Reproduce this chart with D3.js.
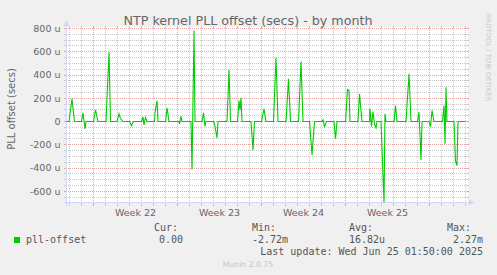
<!DOCTYPE html>
<html>
<head>
<meta charset="utf-8">
<script src="https://cdn.jsdelivr.net/npm/d3@7"></script>
<style>
    html, body { margin: 0; padding: 0; background: #f0f0f0; }
    svg { display: block; }
</style>
</head>
<body>
<div id="chart"></div>
<script>
const times = [
    "2025-05-22 18:00", "2025-05-22 23:00", "2025-05-23 05:00", "2025-05-23 10:00",
    "2025-05-24 00:00", "2025-05-24 03:00", "2025-05-24 07:00", "2025-05-24 09:00",
    "2025-05-25 00:00", "2025-05-25 04:00", "2025-05-25 09:00",
    "2025-05-26 01:00", "2025-05-26 07:00", "2025-05-26 10:00",
    "2025-05-26 23:00", "2025-05-27 03:00", "2025-05-27 06:00", "2025-05-27 11:00",
    "2025-05-28 00:00", "2025-05-28 04:00", "2025-05-28 08:00",
    "2025-05-29 00:00", "2025-05-29 03:00", "2025-05-29 05:00", "2025-05-29 08:00", "2025-05-29 11:00",
    "2025-05-30 02:00", "2025-05-30 03:00", "2025-05-30 07:00", "2025-05-30 09:00",
    "2025-05-31 00:00", "2025-05-31 03:00", "2025-05-31 07:00",
    "2025-06-01 03:00", "2025-06-01 04:00", "2025-06-01 07:00", "2025-06-01 09:00",
    "2025-06-02 03:00", "2025-06-02 05:00", "2025-06-02 09:00", "2025-06-02 11:00",
    "2025-06-03 01:00", "2025-06-03 04:00", "2025-06-03 07:00", "2025-06-03 09:00",
    "2025-06-04 00:00", "2025-06-04 02:00", "2025-06-04 07:00", "2025-06-04 09:00",
    "2025-06-05 03:00", "2025-06-05 07:00", "2025-06-05 10:00",
    "2025-06-06 00:00", "2025-06-06 03:00", "2025-06-06 05:00", "2025-06-06 07:00", "2025-06-06 09:00",
    "2025-06-07 03:00", "2025-06-07 07:00", "2025-06-07 10:00",
    "2025-06-08 00:00", "2025-06-08 05:00", "2025-06-08 09:00",
    "2025-06-09 00:00", "2025-06-09 05:00", "2025-06-09 09:00",
    "2025-06-10 01:00", "2025-06-10 06:00", "2025-06-10 10:00",
    "2025-06-11 02:00", "2025-06-11 07:00", "2025-06-11 11:00",
    "2025-06-12 00:00", "2025-06-12 05:00", "2025-06-12 10:00",
    "2025-06-13 01:00", "2025-06-13 03:00", "2025-06-13 06:00", "2025-06-13 08:00", "2025-06-13 10:00",
    "2025-06-14 01:00", "2025-06-14 04:00", "2025-06-14 07:00",
    "2025-06-15 00:00", "2025-06-15 04:00", "2025-06-15 07:00", "2025-06-15 09:00",
    "2025-06-16 01:00", "2025-06-16 04:00", "2025-06-16 09:00",
    "2025-06-17 00:00", "2025-06-17 01:00", "2025-06-17 04:00", "2025-06-17 07:00", "2025-06-17 10:00", "2025-06-17 13:00", "2025-06-17 15:00",
    "2025-06-17 23:00", "2025-06-18 05:00", "2025-06-18 07:00", "2025-06-18 09:00",
    "2025-06-19 01:00", "2025-06-19 04:00", "2025-06-19 07:00",
    "2025-06-20 01:00", "2025-06-20 07:00", "2025-06-20 11:00",
    "2025-06-21 00:00", "2025-06-21 03:00", "2025-06-21 07:00", "2025-06-21 09:00",
    "2025-06-21 23:00", "2025-06-22 02:00", "2025-06-22 05:00", "2025-06-22 09:00",
    "2025-06-23 02:00", "2025-06-23 05:00", "2025-06-23 07:00", "2025-06-23 09:00", "2025-06-23 11:00",
    "2025-06-24 01:00", "2025-06-24 04:00", "2025-06-24 07:00", "2025-06-24 09:00",
    "2025-06-25 00:00"
]
const offsets = [
    0, 0, 195, 0,
    0, 75, -63, 0,
    0, 100, 0,
    0, 596, 0,
    0, 66, 25, 0,
    0, -37, 0,
    0, 40, -30, 35, 0,
    0, 75, 180, 0,
    0, 118, 0,
    0, -20, 45, 0,
    0, -413, 783, 0,
    0, 75, -43, 0,
    0, -20, -140, 0,
    0, 445, 0,
    0, 180, 100, 204, 0,
    0, -244, 0,
    0, 109, 0,
    0, 548, 0,
    0, 367, 0,
    0, 516, 0,
    0, -287, 0,
    0, 15, -49, -20, 0,
    0, -149, 0,
    0, 275, 270, 0,
    0, 238, 0,
    0, 109, -43, 86, -20, -55, 0,
    0, -694, 66, 0,
    0, 138, 0,
    0, 410, 0,
    0, 80, -330, 0,
    0, -43, 95, 0,
    0, 138, -192, 295, 0,
    0, -340, -378, 0,
    0
]

const yTicks = [-600, -400, -200, 0, 200, 400, 600, 800]
const legendHeads = ["Cur:", "Min:", "Avg:", "Max:"]
const legendValues = ["0.00", "-2.72m", "16.82u", "2.27m"]
const seriesName = "pll-offset"
const lastUpdate = "Last update: Wed Jun 25 01:50:00 2025"

let W = 497, H = 275
let plot = {left: 67, right: 467, top: 28.5, bottom: 203}
const parseTime = d3.utcParse("%Y-%m-%d %H:%M")

let data = times.map(function (t, i) {
    return {t: parseTime(t), v: offsets[i]}
})

let svg = d3.select("#chart")
    .append("svg")
    .attr("width", W)
    .attr("height", H)
    .style("font-family", "'DejaVu Sans', sans-serif")

svg.append("rect")
    .attr("width", W).attr("height", H)
    .attr("fill", "#f0f0f0")

let xScale = d3.scaleUtc()
    .domain([new Date(Date.UTC(2025, 4, 22, 19)), new Date(Date.UTC(2025, 5, 25, 3))])
    .range([plot.left, plot.right])

let yScale = d3.scaleLinear()
    .domain([-701, 800])
    .range([plot.bottom, plot.top])

// canvas
svg.append("rect")
    .attr("x", plot.left - 1)
    .attr("y", 27)
    .attr("width", plot.right - plot.left + 2)
    .attr("height", plot.bottom - 27)
    .attr("fill", "#ffffff")

let grid = svg.append("g").attr("shape-rendering", "crispEdges")

function crisp(v) { return Math.floor(v) + 0.5 }

// horizontal grid, minor every 50u, major every 200u
d3.range(-700, 801, 50).forEach(function (v) {
    let y = crisp(yScale(v))
    let major = v % 200 === 0
    let col = major ? "#e7a2a2" : "#c9c9c9"
    grid.append("line")
        .attr("x1", plot.left - 3).attr("x2", plot.right + 2)
        .attr("y1", y).attr("y2", y)
        .attr("stroke", col)
        .attr("stroke-dasharray", "1,1")
    grid.append("line")
        .attr("x1", plot.left - 3).attr("x2", plot.left - 1)
        .attr("y1", y).attr("y2", y)
        .attr("stroke", col)
    grid.append("line")
        .attr("x1", plot.right).attr("x2", plot.right + 2)
        .attr("y1", y).attr("y2", y)
        .attr("stroke", col)
})

// vertical grid, minor every day, major every week (sunday)
xScale.ticks(d3.utcDay).forEach(function (d) {
    let x = crisp(xScale(d))
    let major = d.getUTCDay() === 0
    let col = major ? "#e7a2a2" : "#c9c9c9"
    grid.append("line")
        .attr("x1", x).attr("x2", x)
        .attr("y1", 26).attr("y2", plot.bottom + 2)
        .attr("stroke", col)
        .attr("stroke-dasharray", "1,1")
    grid.append("line")
        .attr("x1", x).attr("x2", x)
        .attr("y1", plot.bottom).attr("y2", plot.bottom + 3)
        .attr("stroke", col)
    grid.append("line")
        .attr("x1", x).attr("x2", x)
        .attr("y1", 26).attr("y2", 28)
        .attr("stroke", col)
})

// axes with arrows
let axisCol = "#cfd6f8"
svg.append("line")
    .attr("x1", plot.left - 4).attr("x2", plot.right + 4)
    .attr("y1", 202.5).attr("y2", 202.5)
    .attr("stroke", axisCol)
svg.append("line")
    .attr("x1", 66.5).attr("x2", 66.5)
    .attr("y1", plot.bottom + 3).attr("y2", 23)
    .attr("stroke", axisCol)
svg.append("path")
    .attr("d", "M469,199.5L474.5,202.5L469,205.5Z")
    .attr("fill", axisCol)
svg.append("path")
    .attr("d", "M63.5,26L66.5,20.5L69.5,26Z")
    .attr("fill", axisCol)

// y labels
svg.selectAll(".ylab")
    .data(yTicks)
    .enter()
    .append("text")
    .attr("class", "ylab")
    .attr("x", 60.5)
    .attr("y", function (d) { return yScale(d) })
    .attr("dy", "0.36em")
    .attr("text-anchor", "end")
    .style("font-size", "9.5px")
    .attr("fill", "#666")
    .text(function (d) { return d === 0 ? "0" : d + " u" })

// week labels, centred in the week
let weekFmt = d3.utcFormat("%V")
d3.utcSunday.range(d3.utcSunday.floor(xScale.domain()[0]), xScale.domain()[1]).forEach(function (d) {
    let mid = new Date(d.getTime() + 3.5 * 864e5)
    if (mid < xScale.domain()[0] || mid > xScale.domain()[1]) return
    svg.append("text")
        .attr("x", xScale(mid))
        .attr("y", 216)
        .attr("text-anchor", "middle")
        .style("font-size", "9.5px")
        .attr("fill", "#666")
        .text("Week " + weekFmt(mid))
})

// the line
let lineGen = d3.line()
    .x(function (d) { return xScale(d.t) })
    .y(function (d) { return yScale(d.v) })

svg.append("path")
    .attr("d", lineGen(data))
    .attr("fill", "none")
    .attr("stroke", "#00cc00")
    .attr("stroke-width", 1.1)

// title and axis title
svg.append("text")
    .attr("x", 248)
    .attr("y", 24.5)
    .attr("text-anchor", "middle")
    .style("font-size", "12.7px")
    .attr("fill", "#666")
    .text("NTP kernel PLL offset (secs) - by month")

svg.append("text")
    .attr("transform", "translate(14.5,109) rotate(-90)")
    .attr("text-anchor", "middle")
    .style("font-size", "10px")
    .attr("fill", "#666")
    .text("PLL offset (secs)")

svg.append("text")
    .attr("transform", "translate(485.5,57.5) rotate(90)")
    .attr("text-anchor", "middle")
    .style("font-size", "6.8px")
    .attr("fill", "#c8c8c8")
    .text("RRDTOOL / TOBI OETIKER")

// legend
let mono = "'DejaVu Sans Mono', monospace"
let headX = [154, 252, 349, 447]
let valX = [183, 288, 385, 483]

svg.append("rect")
    .attr("x", 14).attr("y", 237)
    .attr("width", 6).attr("height", 6)
    .attr("fill", "#00cc00")

svg.append("text")
    .attr("x", 26).attr("y", 243)
    .style("font-family", mono).style("font-size", "10px")
    .attr("fill", "#555")
    .text(seriesName)

legendHeads.forEach(function (h, i) {
    svg.append("text")
        .attr("x", headX[i]).attr("y", 231)
        .style("font-family", mono).style("font-size", "10px")
        .attr("fill", "#555")
        .text(h)
    svg.append("text")
        .attr("x", valX[i]).attr("y", 243)
        .attr("text-anchor", "end")
        .style("font-family", mono).style("font-size", "10px")
        .attr("fill", "#555")
        .text(legendValues[i])
})

svg.append("text")
    .attr("x", 483).attr("y", 255)
    .attr("text-anchor", "end")
    .style("font-family", mono).style("font-size", "10px")
    .attr("fill", "#555")
    .text(lastUpdate)

svg.append("text")
    .attr("x", 248).attr("y", 267)
    .attr("text-anchor", "middle")
    .style("font-size", "7.7px")
    .attr("fill", "#c4c4c4")
    .text("Munin 2.0.75")
</script>
</body>
</html>
